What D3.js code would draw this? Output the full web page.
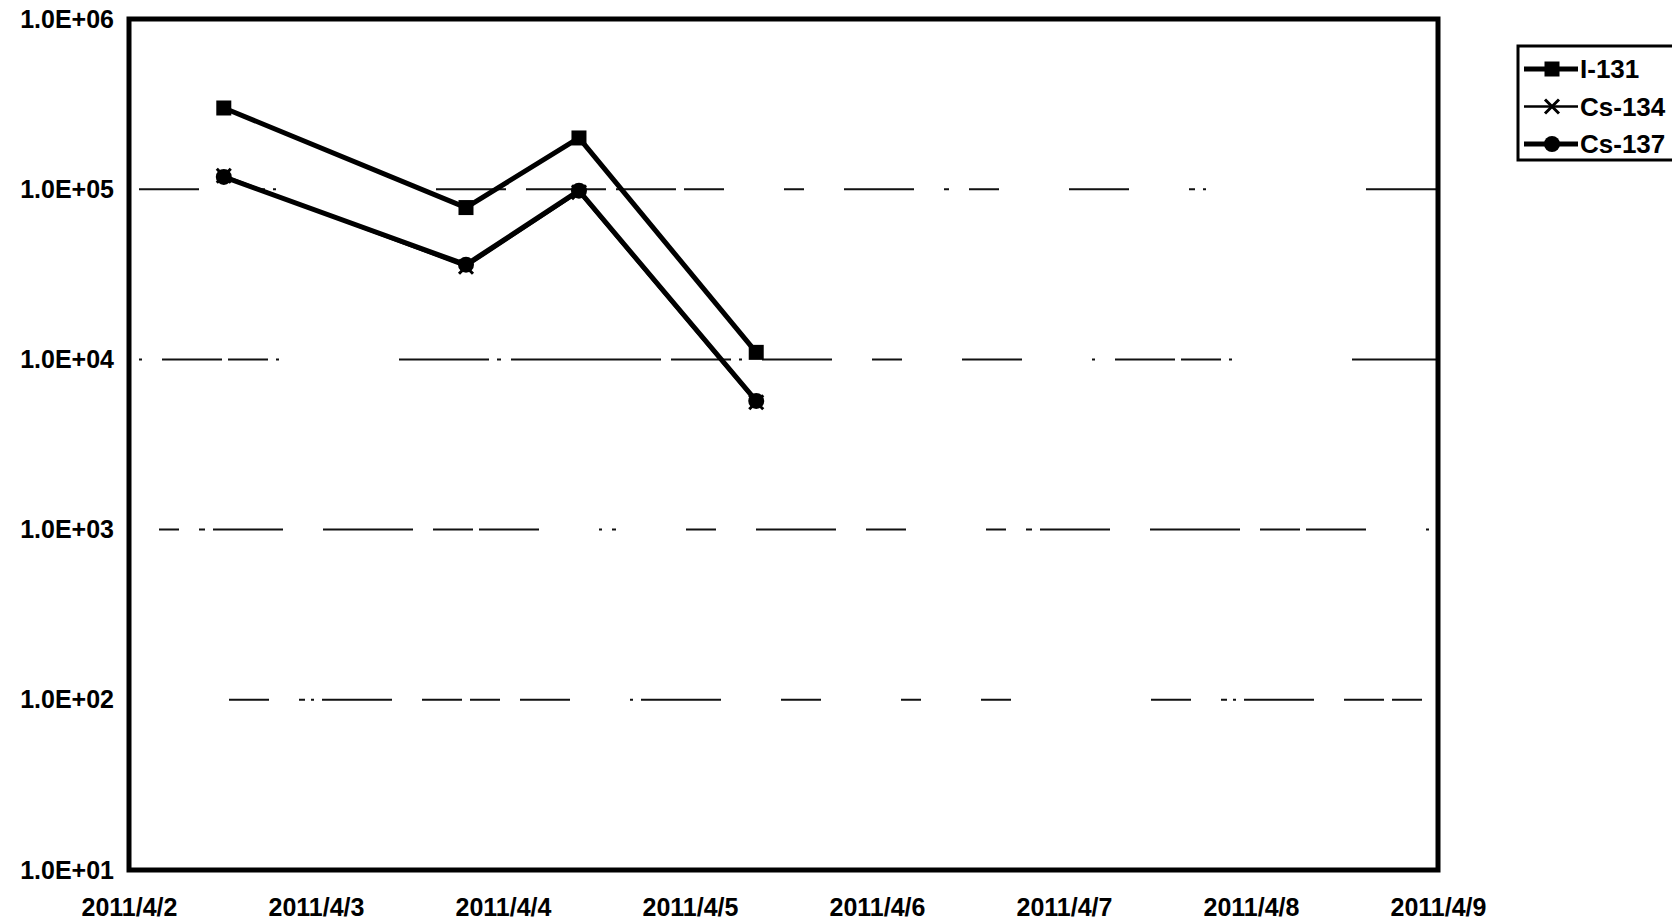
<!DOCTYPE html>
<html>
<head>
<meta charset="utf-8">
<script src="https://cdn.jsdelivr.net/npm/d3@7"></script>
<style>
  html, body { margin: 0; padding: 0; background: #fff; }
  svg { display: block; }
  text { font-family: "Liberation Sans", Arial, sans-serif; font-weight: bold; fill: #000; }
</style>
</head>
<body>
<svg id="chart" width="1672" height="923"></svg>
<script>
// ---- data ----
const sampleTimes = ["2011-04-02T12:10", "2011-04-03T19:15", "2011-04-04T09:45", "2011-04-05T08:30"];
const i131  = [300000, 78000, 200000, 11000];
const cs134 = [120000, 35000, 96000, 5600];
const cs137 = [118000, 36000, 98000, 5700];
const seriesNames = ["I-131", "Cs-134", "Cs-137"];
const yTickValues = [1e1, 1e2, 1e3, 1e4, 1e5, 1e6];
const yTickLabels = ["1.0E+01", "1.0E+02", "1.0E+03", "1.0E+04", "1.0E+05", "1.0E+06"];
const xTickDays = ["2011-04-02", "2011-04-03", "2011-04-04", "2011-04-05", "2011-04-06", "2011-04-07", "2011-04-08", "2011-04-09"];
const xTickLabels = ["2011/4/2", "2011/4/3", "2011/4/4", "2011/4/5", "2011/4/6", "2011/4/7", "2011/4/8", "2011/4/9"];

// ---- layout ----
const plot = { left: 129, right: 1438, top: 19, bottom: 870 };
const svg = d3.select("#chart");
const parseT = d3.timeParse("%Y-%m-%dT%H:%M");
const parseD = d3.timeParse("%Y-%m-%d");
const days = xTickDays.map(parseD);
const times = sampleTimes.map(parseT);

const x = d3.scaleTime().domain([days[0], days[days.length - 1]]).range([plot.left, plot.right]);
const y = d3.scaleLog().domain([1e1, 1e6]).range([plot.bottom, plot.top]);

// gridlines (broken, dotted look of the scan)
const gridVals = yTickValues.slice(1, -1);
const gridDash = [
  "0,100,40,30,6,6,3,8,70,30,40,8,30,20,50,60,3,8,80,60,40,80,20,60,30,40",
  "0,30,20,20,6,8,70,40,90,20,40,6,60,60,3,10,4,70,30,40,80,30,40,50",
  "0,10,3,20,60,6,40,8,3,120,90,8,4,10,150,10,60,8,3,20,70,40,30,60,60,60",
  "0,10,60,60,6,8,3,160,70,20,80,10,60,8,40,60,20,40,70,30,5,20,30,60"
];
svg.append("g").selectAll("line").data(gridVals).join("line")
  .attr("x1", plot.left).attr("x2", plot.right)
  .attr("y1", d => y(d)).attr("y2", d => y(d))
  .attr("stroke", "#111").attr("stroke-width", 2)
  .attr("stroke-dasharray", (d, i) => gridDash[i]);

// axes
const yAxis = d3.axisLeft(y).tickValues(yTickValues)
  .tickFormat((d, i) => yTickLabels[i]).tickSize(0).tickPadding(15);
const gy = svg.append("g").attr("transform", `translate(${plot.left},0)`).call(yAxis);
gy.select(".domain").remove();
gy.selectAll("text").attr("font-size", 25).style("font-family", "'Liberation Sans', Arial, sans-serif").style("font-weight", "bold");

const xAxis = d3.axisBottom(x).tickValues(days)
  .tickFormat((d, i) => xTickLabels[i]).tickSize(0).tickPadding(28);
const gx = svg.append("g").attr("transform", `translate(0,${plot.bottom})`).call(xAxis);
gx.select(".domain").remove();
gx.selectAll("text").attr("font-size", 25).style("font-family", "'Liberation Sans', Arial, sans-serif").style("font-weight", "bold");

// frame
svg.append("rect")
  .attr("x", plot.left).attr("y", plot.top)
  .attr("width", plot.right - plot.left).attr("height", plot.bottom - plot.top)
  .attr("fill", "none").attr("stroke", "#000").attr("stroke-width", 5);

// series
const series = [
  { name: seriesNames[0], values: i131,  marker: "square", width: 5 },
  { name: seriesNames[1], values: cs134, marker: "cross",  width: 2.5 },
  { name: seriesNames[2], values: cs137, marker: "circle", width: 5 }
];
const line = d3.line().x((d, i) => x(times[i])).y(d => y(d));

function drawMarker(g, type, cx, cy) {
  if (type === "square") {
    g.append("rect").attr("x", cx - 7.5).attr("y", cy - 7.5).attr("width", 15).attr("height", 15).attr("fill", "#000");
  } else if (type === "circle") {
    g.append("circle").attr("cx", cx).attr("cy", cy).attr("r", 8).attr("fill", "#000");
  } else {
    g.append("path").attr("d", `M${cx-7},${cy-7}L${cx+7},${cy+7}M${cx-7},${cy+7}L${cx+7},${cy-7}`)
      .attr("stroke", "#000").attr("stroke-width", 3);
  }
}

series.forEach(s => {
  const g = svg.append("g");
  g.append("path").datum(s.values).attr("d", line)
    .attr("fill", "none").attr("stroke", "#000").attr("stroke-width", s.width).attr("stroke-linejoin", "round");
  s.values.forEach((v, i) => drawMarker(g, s.marker, x(times[i]), y(v)));
});

// legend
const legend = svg.append("g");
legend.append("rect").attr("x", 1518).attr("y", 46).attr("width", 170).attr("height", 114)
  .attr("fill", "#fff").attr("stroke", "#000").attr("stroke-width", 3);
series.forEach((s, i) => {
  const ly = 69 + i * 37.5;
  legend.append("line").attr("x1", 1524).attr("x2", 1578).attr("y1", ly).attr("y2", ly)
    .attr("stroke", "#000").attr("stroke-width", s.width);
  drawMarker(legend, s.marker, 1552, ly);
  legend.append("text").attr("x", 1580).attr("y", ly).attr("dy", "0.36em")
    .attr("font-size", 26).text(s.name);
});
</script>
</body>
</html>
